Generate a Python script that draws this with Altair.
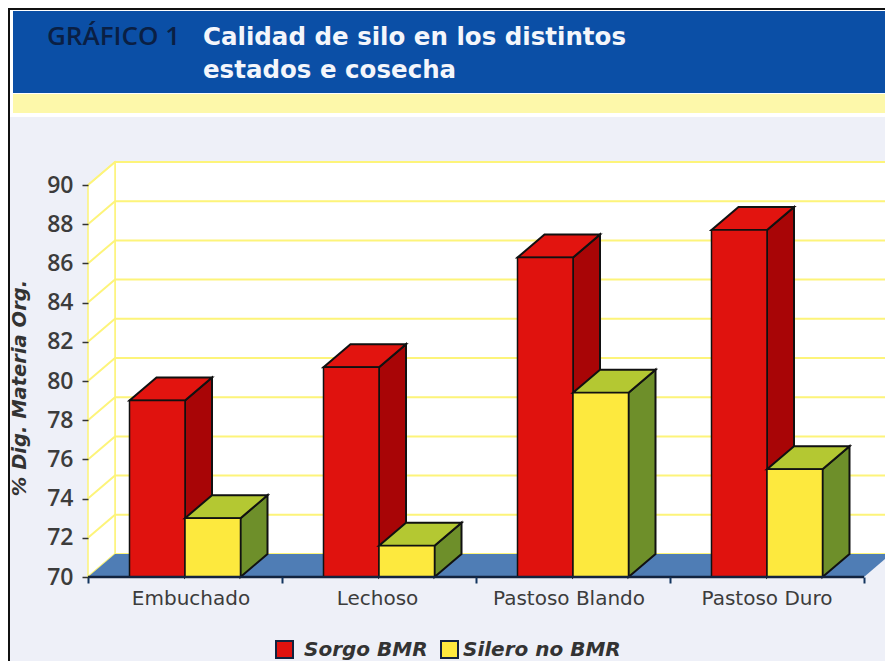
import altair as alt
import pandas as pd

categories = ["Embuchado", "Lechoso", "Pastoso Blando", "Pastoso Duro"]
series_names = ["Sorgo BMR", "Silero no BMR"]
sorgo = [79.0, 80.7, 86.3, 87.7]
silero = [73.0, 71.6, 79.4, 75.5]
y_ticks = list(range(70, 92, 2))
x_ticks = [0, 1, 2, 3, 4]
title_lines = ["Calidad de silo en los distintos", "estados e cosecha"]
header_tag = "GRÁFICO 1"
y_title = "% Dig. Materia Org."

W, H = 877, 653
FONT = "DejaVu Sans"
DX = 27 / 194      # depth in category units
DY = 23 / 19.6     # depth in value units
BW = 55.5 / 194    # bar width in category units
LABEL_NUDGE = [6 / 194, -1.5 / 194, -4 / 194, 0]  # the labels sit slightly off the group centres

xs = alt.Scale(domain=[0, 4], range=[80, 856])
ys = alt.Scale(domain=[70, 90], range=[569, 177])
x_axis = alt.Axis(values=x_ticks, labels=False, title=None, grid=False, domain=False, offset=-(H - 569),
                  tickColor="#12345f", tickSize=6, tickWidth=2, zindex=1)
y_axis = alt.Axis(values=y_ticks, title=None, grid=False, domain=False, offset=-80,
                  tickColor="#333333", tickSize=6, tickWidth=1.5, labelPadding=9, zindex=1,
                  labelFont="Open Sans", labelFontSize=23, labelFontWeight=600, labelColor="#3c3c3c")
X = lambda f="x": alt.X(f"{f}:Q", scale=xs, axis=x_axis)
Y = lambda f="y": alt.Y(f"{f}:Q", scale=ys, axis=y_axis)
dummy = pd.DataFrame({"a": [0]})


def px_rect(x0, y0, x1, y1, color, **kw):
    return alt.Chart(dummy).mark_rect(color=color, **kw).encode(
        x=alt.value(x0 - 8), x2=alt.value(x1 - 8),
        y=alt.value(y0 - 8), y2=alt.value(y1 - 8))


def px_text(s, x, y, font=FONT, **kw):
    return alt.Chart(dummy).mark_text(font=font, align="left", baseline="alphabetic", **kw).encode(
        x=alt.value(x - 8), y=alt.value(y - 8), text=alt.value(s))


layers = [
    px_rect(8, 8, 893, 669, "#ffffff"),
    px_rect(10, 117, 893, 669, "#eef0f8"),
    px_rect(13, 11, 893, 93, "#0b4fa6"),
    px_rect(13, 94, 893, 113, "#fdf8aa"),
    px_rect(8, 8, 893, 10, "#111111"),
    px_rect(8, 8, 10, 669, "#111111"),
    px_text(header_tag, 47, 45, font="Open Sans", fontSize=26, fontWeight=600, color="#0a1f44"),
    px_text(title_lines[0], 203, 45, fontSize=24.5, fontWeight="bold", color="#f4f6fb"),
    px_text(title_lines[1], 203, 78, fontSize=24.5, fontWeight="bold", color="#f4f6fb"),
]

# walls and floor
wall = pd.DataFrame({"x": [DX], "x2": [4 + DX], "y": [70 + DY], "y2": [90 + DY]})
layers.append(alt.Chart(wall).mark_rect(color="#ffffff", stroke="#fdf47a", strokeWidth=1.5).encode(
    x=X(), x2="x2:Q", y=Y(), y2="y2:Q"))
left_wall = pd.DataFrame({"x": [0, DX], "y": [70, 70 + DY], "y2": [90, 90 + DY]})
layers.append(alt.Chart(left_wall).mark_area(color="#ffffff", stroke="#fdf47a", strokeWidth=1.5).encode(
    x=X(), y=Y(), y2="y2:Q"))
grid = pd.DataFrame(
    [{"v": v, "o": i, "x": x, "y": v + d}
     for v in y_ticks
     for i, (x, d) in enumerate([(0, 0), (DX, DY), (4 + DX, DY)])])
layers.append(alt.Chart(grid).mark_line(color="#fdf47a", strokeWidth=2).encode(
    x=X(), y=Y(), detail="v:N", order="o:Q"))
floor = pd.DataFrame({"y": [70, 70 + DY], "x": [0, DX], "x2": [4, 4 + DX]})
layers.append(alt.Chart(floor).mark_area(orient="horizontal", color="#4f7db5").encode(
    y=Y(), x=X(), x2="x2:Q"))


def bars(values, offset, front, top, side):
    out = []
    side_rows, top_rows, front_rows = [], [], []
    for i, v in enumerate(values):
        c = i + 0.5
        l, r = c + offset, c + offset + BW
        front_rows.append({"x": l, "x2": r, "y": 70, "y2": v})
        side_rows += [{"b": i, "x": r, "y": 70, "y2": v},
                      {"b": i, "x": r + DX, "y": 70 + DY, "y2": v + DY}]
        top_rows += [{"b": i, "y": v, "x": l, "x2": r},
                     {"b": i, "y": v + DY, "x": l + DX, "x2": r + DX}]
    for rows, color, mark in [(side_rows, side, "side"), (top_rows, top, "top")]:
        df = pd.DataFrame(rows)
        if mark == "side":
            out.append(alt.Chart(df).mark_area(color=color, stroke="#111111", strokeWidth=2).encode(
                x=X(), y=Y(), y2="y2:Q", detail="b:N"))
        else:
            out.append(alt.Chart(df).mark_area(orient="horizontal", color=color, stroke="#111111", strokeWidth=2).encode(
                y=Y(), x=X(), x2="x2:Q", detail="b:N"))
    out.append(alt.Chart(pd.DataFrame(front_rows)).mark_rect(color=front, stroke="#111111", strokeWidth=1.5).encode(
        x=X(), x2="x2:Q", y=Y(), y2="y2:Q"))
    return out


layers += bars(sorgo, -BW, "#e0120e", "#e2140f", "#a80506")
layers += bars(silero, 0, "#fde93e", "#b4c832", "#6e8f2a")

# x axis line
axis_df = pd.DataFrame({"x": [0, 4], "y": [70, 70]})
layers.append(alt.Chart(axis_df).mark_line(color="#12233f", strokeWidth=2.5).encode(x=X(), y=Y()))

# category labels
cat_df = pd.DataFrame({"x": [i + 0.5 + LABEL_NUDGE[i] for i in range(4)], "y": [68.87] * 4, "t": categories})
layers.append(alt.Chart(cat_df).mark_text(font=FONT, fontSize=20, color="#3c3c3c").encode(
    x=X(), y=Y(), text="t:N"))

# y title
layers.append(alt.Chart(dummy).mark_text(font=FONT, fontSize=19.5, fontWeight="bold", fontStyle="italic",
                                         color="#333333", angle=270).encode(
    x=alt.value(19.5 - 8), y=alt.value(388 - 8), text=alt.value(y_title)))

# legend
layers += [
    px_rect(276, 641, 293, 658, "#e0120e", stroke="#12233f", strokeWidth=2),
    px_text(series_names[0], 304, 656, fontSize=20, fontWeight="bold", fontStyle="italic", color="#333333"),
    px_rect(441, 641, 458, 658, "#fde93e", stroke="#12233f", strokeWidth=2),
    px_text(series_names[1], 463, 656, fontSize=20, fontWeight="bold", fontStyle="italic", color="#333333"),
]

chart = alt.layer(*layers).properties(
    width=W, height=H, padding=0, autosize=alt.AutoSizeParams(type="none")
).configure_view(stroke=None)

chart.save("out.html", embed_options={"renderer": "svg", "actions": False})
